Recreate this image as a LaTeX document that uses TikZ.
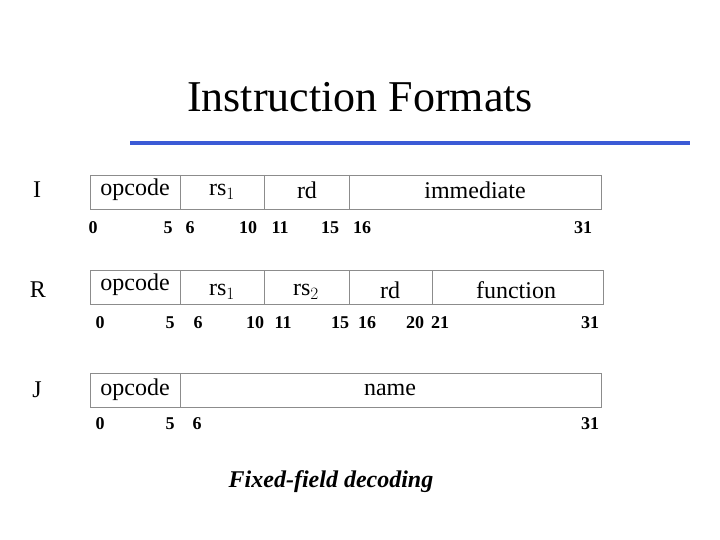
\documentclass[tikz,border=0pt]{standalone}
\usepackage{fontspec}
\setmainfont{Liberation Serif}
\begin{document}
\begin{tikzpicture}[x=1pt,y=-1pt]
	\tikzstyle{every node}+=[inner sep=0pt]
	\tikzstyle{field}=[font=\fontsize{24}{26}\selectfont]
	\tikzstyle{bitno}=[font=\fontsize{18}{20}\selectfont\bfseries]
	\tikzstyle{divider}=[draw=black!45, line width=0.8pt]
	\useasboundingbox (0,0) rectangle (720,540);
	\node (title) at (360,97) {\fontsize{44}{48}\selectfont Instruction Formats};
	\coordinate (rulel) at (130,143);
	\coordinate (ruler) at (690,143);
	\draw [color={rgb,255:red,59;green,91;blue,214}, line width=4pt] (rulel) -- (ruler);
	% I format
	\node [field] (lI) at (37,190) {I};
	\draw [divider] (90,175) rectangle (601,209);
	\draw [divider] (180,175) -- (180,209) (264,175) -- (264,209) (349,175) -- (349,209);
	\node [field] (iop) at (135,190) {opcode};
	\node [field] (irs) at (222,192) {rs$_1$};
	\node [field] (ird) at (307,190) {rd};
	\node [field] (iimm) at (475,190) {immediate};
	\foreach \n/\x in {0/93,5/168,6/190,10/248,11/280,15/330,16/362,31/583}
		\node [bitno] at (\x,228) {\n};
	% R format
	\node [field] (lR) at (38,290) {R};
	\draw [divider] (90,270) rectangle (603,304);
	\draw [divider] (180,270) -- (180,304) (264,270) -- (264,304) (349,270) -- (349,304) (432,270) -- (432,304);
	\node [field] (rop) at (135,285) {opcode};
	\node [field] (rrs1) at (222,292) {rs$_1$};
	\node [field] (rrs2) at (306,292) {rs$_2$};
	\node [field] (rrd) at (390,290) {rd};
	\node [field] (rfn) at (516,290) {function};
	\foreach \n/\x in {0/100,5/170,6/198,10/255,11/283,15/340,16/367,20/415,21/440,31/590}
		\node [bitno] at (\x,323) {\n};
	% J format
	\node [field] (lJ) at (37,390) {J};
	\draw [divider] (90,373) rectangle (601,407);
	\draw [divider] (180,373) -- (180,407);
	\node [field] (jop) at (135,390) {opcode};
	\node [field] (jname) at (390,390) {name};
	\foreach \n/\x in {0/100,5/170,6/197,31/590}
		\node [bitno] at (\x,424) {\n};
	\node [font=\fontsize{24}{26}\selectfont\bfseries\itshape] (cap) at (331,482) {Fixed-field decoding};
\end{tikzpicture}
\end{document}
